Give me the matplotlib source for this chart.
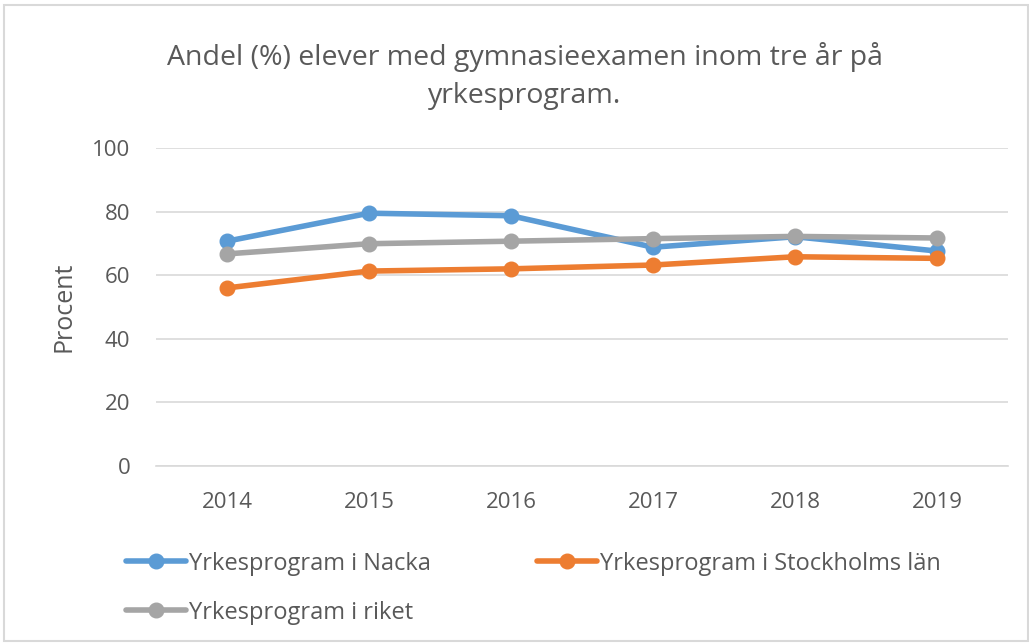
import matplotlib
matplotlib.use("Agg")
import matplotlib.pyplot as plt
from matplotlib.patches import Rectangle

# Data
years = ["2014", "2015", "2016", "2017", "2018", "2019"]
nacka = [70.7, 79.5, 78.7, 68.8, 72.1, 67.6]
stockholm = [56.0, 61.3, 62.0, 63.2, 65.8, 65.3]
riket = [66.7, 69.9, 70.7, 71.5, 72.2, 71.7]

labels = ["Yrkesprogram i Nacka", "Yrkesprogram i Stockholms län", "Yrkesprogram i riket"]
colors = ["#5B9BD5", "#ED7D31", "#A5A5A5"]

plt.rcParams['font.family'] = ['Open Sans', 'DejaVu Sans']
txt = "#595959"

fig = plt.figure(figsize=(10.29, 6.43), dpi=100)
ax = fig.add_axes([0.1516, 0.2753, 0.828, 0.4945])

x = list(range(len(years)))
lines = []
for vals, lab, col in zip([nacka, stockholm, riket], labels, colors):
    ln, = ax.plot(x, vals, color=col, lw=4, marker='o', ms=10.5, label=lab,
                  solid_capstyle='round')
    lines.append(ln)

ax.set_xlim(-0.5, 5.5)
ax.set_ylim(0, 100)
ax.set_yticks(range(0, 101, 20))
ax.set_xticks(x)
ax.set_xticklabels(years)
ax.grid(axis='y', color='#D9D9D9', lw=1.2)
ax.set_axisbelow(True)
for s in ['top', 'right', 'left']:
    ax.spines[s].set_visible(False)
ax.spines['bottom'].set_color('#D9D9D9')
ax.spines['bottom'].set_linewidth(1.2)
ax.tick_params(length=0, labelsize=16, labelcolor=txt)
ax.tick_params(axis='x', pad=19)
ax.tick_params(axis='y', pad=18.5)
ax.set_ylabel("Procent", fontsize=18, color=txt, labelpad=11)

fig.text(0.51, 0.912, "Andel (%) elever med gymnasieexamen inom tre år på",
         ha='center', va='center', fontsize=20.5, color=txt)
fig.text(0.51, 0.850, "yrkesprogram.", ha='center', va='center', fontsize=20.5, color=txt)

# row-wise order: Nacka, Stockholm / riket
order = [lines[0], lines[2], lines[1]]
ax.legend(order, [l.get_label() for l in order], loc='upper left',
          bbox_to_anchor=(-0.046, -0.24), borderaxespad=0, ncol=2,
          frameon=False, fontsize=17, labelcolor=txt, handlelength=2.55,
          handletextpad=0.1, columnspacing=4.5, labelspacing=1.05)

fig.patches.append(Rectangle((0.004, 0.003), 0.995, 0.99, transform=fig.transFigure,
                             fill=False, edgecolor='#D9D9D9', lw=1.5))

fig.savefig("out.png", dpi=100, facecolor='white')
